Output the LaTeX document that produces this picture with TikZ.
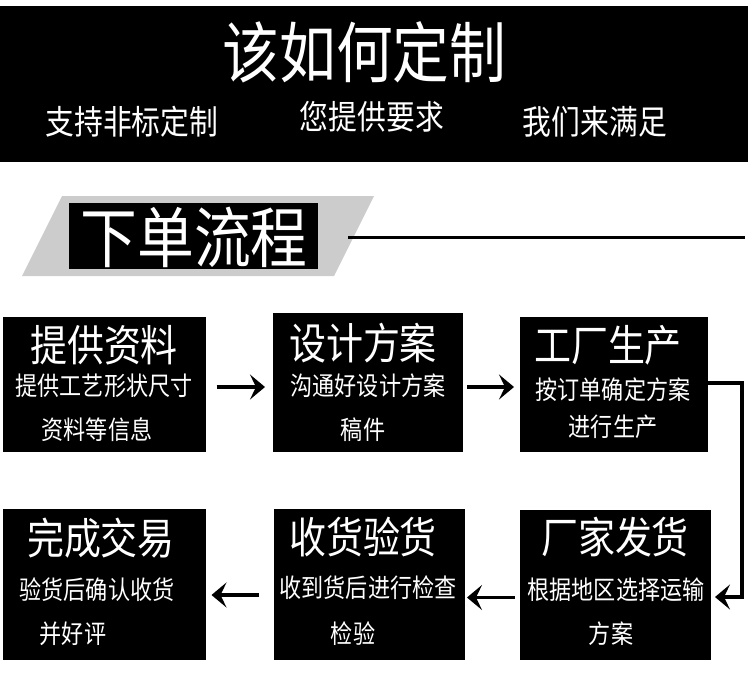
\documentclass[tikz,border=0pt]{standalone}
\usepackage{fontspec}
\newfontfamily\cjk[FakeStretch=0.86]{Noto Sans CJK SC}
\usetikzlibrary{arrows.meta,calc}
\begin{document}
\begin{tikzpicture}[x=1pt,y=1pt,
  box/.style={fill=black,inner sep=0pt,outer sep=0pt},
  bigtxt/.style={text=white,inner sep=0pt,font=\cjk\fontsize{66}{66}\selectfont},
  midtxt/.style={text=white,inner sep=0pt,font=\cjk\fontsize{33.5}{33.5}\selectfont},
  ttl/.style={text=white,inner sep=0pt,font=\cjk\fontsize{43}{43}\selectfont},
  subtxt/.style={text=white,inner sep=0pt,font=\cjk\fontsize{25.7}{25.7}\selectfont},
  conn/.style={line width=3.5pt,-{Stealth[length=15pt,width=25pt,inset=6pt]}}]
\useasboundingbox (0,0) rectangle (750,-680);
% top banner
\node[box,minimum width=748pt,minimum height=156pt] (banner) at (374,-84) {};
\node[bigtxt] (title) at (364.5,-52) {该如何定制};
\node[midtxt] (s1) at (132,-122) {支持非标定制};
\node[midtxt] (s2) at (372,-117) {您提供要求};
\node[midtxt] (s3) at (595,-122) {我们来满足};
% section header
\fill[gray!40] (62,-196) -- (374,-196) -- (334,-276) -- (22,-276) -- cycle;
\node[box,minimum width=249pt,minimum height=66pt] (secbox) at (193.5,-236) {};
\node[bigtxt] (sectxt) at (194,-237) {下单流程};
\coordinate (lend) at (745,-237);
\draw[line width=3pt] (348,-237) -- (lend);
% boxes
\node[box,minimum width=203pt,minimum height=135pt] (b1) at (104.5,-384.5) {};
\node[box,minimum width=190pt,minimum height=139pt] (b2) at (368,-382.5) {};
\node[box,minimum width=188pt,minimum height=135pt] (b3) at (614,-384.5) {};
\node[box,minimum width=203pt,minimum height=151pt] (b4) at (104.5,-584.5) {};
\node[box,minimum width=191pt,minimum height=151pt] (b5) at (369.5,-584.5) {};
\node[box,minimum width=191pt,minimum height=150pt] (b6) at (615.5,-585) {};
% texts
\node[ttl] (t1) at (104,-345) {提供资料};
\node[subtxt] (u1a) at (104,-386) {提供工艺形状尺寸};
\node[subtxt] (u1b) at (97,-430) {资料等信息};
\node[ttl] (t2) at (363,-343) {设计方案};
\node[subtxt] (u2a) at (368,-386) {沟通好设计方案};
\node[subtxt] (u2b) at (363,-430) {稿件};
\node[ttl] (t3) at (608,-345) {工厂生产};
\node[subtxt] (u3a) at (613,-390) {按订单确定方案};
\node[subtxt] (u3b) at (613,-427) {进行生产};
\node[ttl] (t4) at (101,-538) {完成交易};
\node[subtxt] (u4a) at (97,-590) {验货后确认收货};
\node[subtxt] (u4b) at (73,-634) {并好评};
\node[ttl] (t5) at (363,-537) {收货验货};
\node[subtxt] (u5a) at (368,-588) {收到货后进行检查};
\node[subtxt] (u5b) at (353,-634) {检验};
\node[ttl] (t6) at (615,-537) {厂家发货};
\node[subtxt] (u6a) at (616,-590) {根据地区选择运输};
\node[subtxt] (u6b) at (611,-634) {方案};
% connectors
\draw[conn,shorten <=10.5pt,shorten >=8pt] ([yshift=-2.5pt]b1.east) -- ([yshift=-2.5pt]b1.east -| b2.west);
\draw[conn,shorten <=4pt,shorten >=6pt] ([yshift=-4.5pt]b2.east) -- ([yshift=-4.5pt]b2.east -| b3.west);
\draw[conn] ([yshift=1.5pt]b3.east) -- ++(34,0) |- ([xshift=4pt,yshift=-12pt]b6.east);
\draw[conn,shorten <=5pt,shorten >=2pt] ([yshift=-12.5pt]b6.west) -- ([yshift=-12.5pt]b6.west -| b5.east);
\draw[conn,shorten <=15pt,shorten >=5.5pt] ([yshift=-10.5pt]b5.west) -- ([yshift=-10.5pt]b5.west -| b4.east);
\end{tikzpicture}
\end{document}
